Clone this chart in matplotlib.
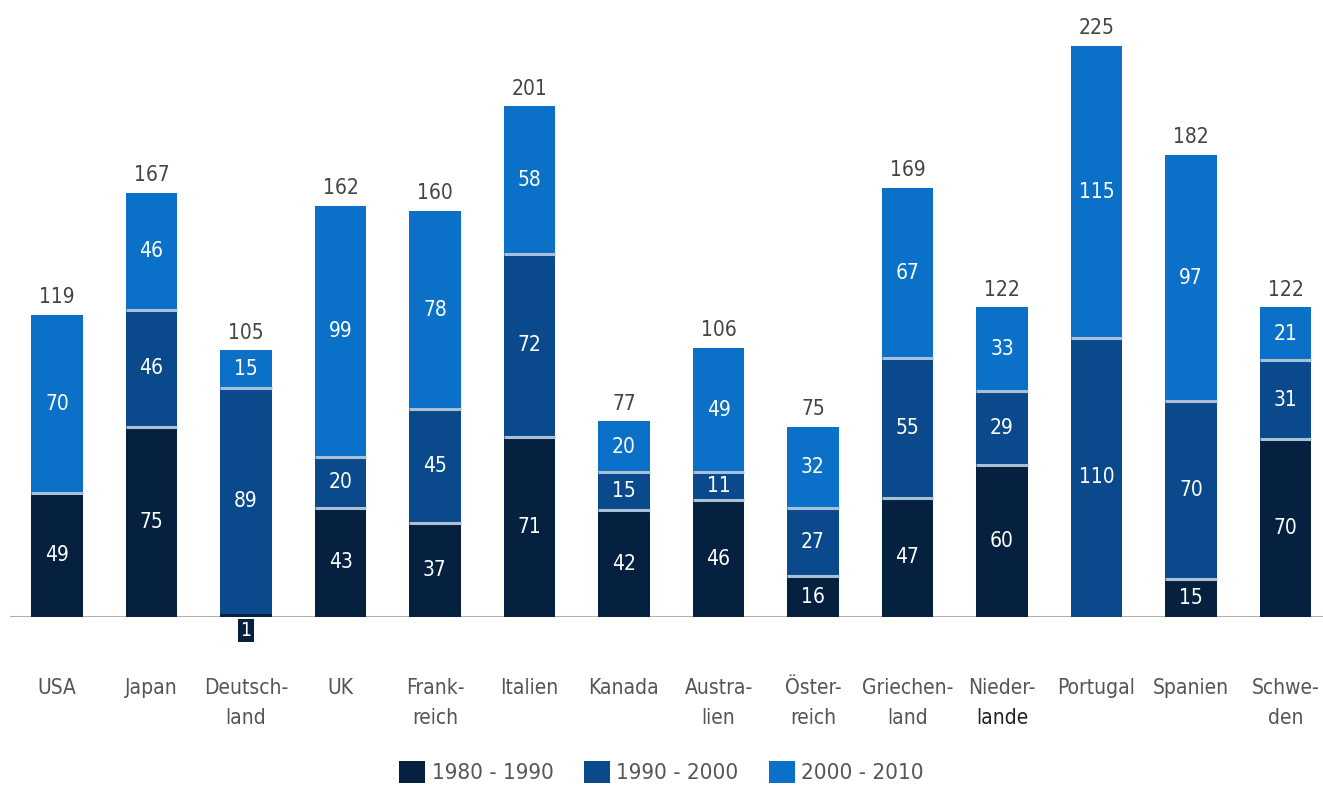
import matplotlib
matplotlib.use("Agg")
import matplotlib.pyplot as plt
import numpy as np
from matplotlib.patches import Patch

categories = ["USA", "Japan", "Deutsch-\nland", "UK", "Frank-\nreich", "Italien", "Kanada",
              "Austra-\nlien", "Öster-\nreich", "Griechen-\nland", "Nieder-\nlande",
              "Portugal", "Spanien", "Schwe-\nden"]
s1980 = [49, 75, 1, 43, 37, 71, 42, 46, 16, 47, 60, 0, 15, 70]
s1990 = [0, 46, 89, 20, 45, 72, 15, 11, 27, 55, 29, 110, 70, 31]
s2000 = [70, 46, 15, 99, 78, 58, 20, 49, 32, 67, 33, 115, 97, 21]
totals = [119, 167, 105, 162, 160, 201, 77, 106, 75, 169, 122, 225, 182, 122]
series_names = ["1980 - 1990", "1990 - 2000", "2000 - 2010"]

colors = ["#06203f", "#0a4a8c", "#0a70c8"]
sep_color = "#a9bfd6"
text_gray = "#444444"

plt.rcParams['font.family'] = ['DejaVu Sans']
plt.rcParams['font.stretch'] = 'condensed'

W, H = 1323, 807
fig = plt.figure(figsize=(W / 100, H / 100), dpi=100)
base_px = 617
ax = fig.add_axes([10 / W, (H - base_px) / H, 1 - 10 / W, base_px / H])
px_per_unit = 2.54
ax.set_ylim(0, base_px / px_per_unit)
spacing = 94.5
x0 = 57
ax.set_xlim(-(x0 - 10) / spacing, (W - x0) / spacing)
ax.axis("off")

x = np.arange(len(categories))
width = 0.55
fs = 15
series = [np.array(s1980), np.array(s1990), np.array(s2000)]
bottom = np.zeros(len(x))
for k, vals in enumerate(series):
    ax.bar(x, vals, width, bottom=bottom, color=colors[k], edgecolor="none", zorder=2)
    for i, v in enumerate(vals):
        if v <= 0:
            continue
        if v == 1:
            ax.text(x[i], -1.5, str(v), ha="center", va="top", color="white", fontsize=fs - 1,
                    bbox=dict(boxstyle="square,pad=0.1", fc=colors[k], ec="none"), zorder=4)
        else:
            ax.text(x[i], bottom[i] + v / 2, str(v), ha="center", va="center",
                    color="white", fontsize=fs, zorder=4)
    bottom = bottom + vals

# separators between segments
bnd = np.zeros(len(x))
for k, vals in enumerate(series[:-1]):
    bnd = bnd + vals
    for i in range(len(x)):
        if vals[i] > 0 and bnd[i] < totals[i] and bnd[i] > 1:
            ax.hlines(bnd[i], x[i] - width / 2, x[i] + width / 2, color=sep_color, lw=2.2, zorder=3)

for i, t in enumerate(totals):
    ax.text(x[i], t + 3, str(t), ha="center", va="bottom", color=text_gray, fontsize=fs)

ax.axhline(0, color="#b0b0b0", lw=1.5, zorder=1)

# category labels
for i, c in enumerate(categories):
    lines = c.split("\n")
    for j, ln in enumerate(lines):
        col = "#222222" if ln == "lande" else "#555555"
        ax.text(x[i], -(688 - base_px) / px_per_unit - j * 30 / px_per_unit, ln,
                ha="center", va="center", color=col, fontsize=fs, clip_on=False)

handles = [Patch(facecolor=colors[k], edgecolor="none") for k in range(3)]
fig.legend(handles, series_names, loc="center", bbox_to_anchor=(0.5, (H - 772) / H),
           ncol=3, frameon=False, fontsize=16, labelcolor="#555555",
           handlelength=1.17, handleheight=1.17, handletextpad=0.3, columnspacing=1.35)

fig.savefig("out.png", dpi=100, facecolor="white")
